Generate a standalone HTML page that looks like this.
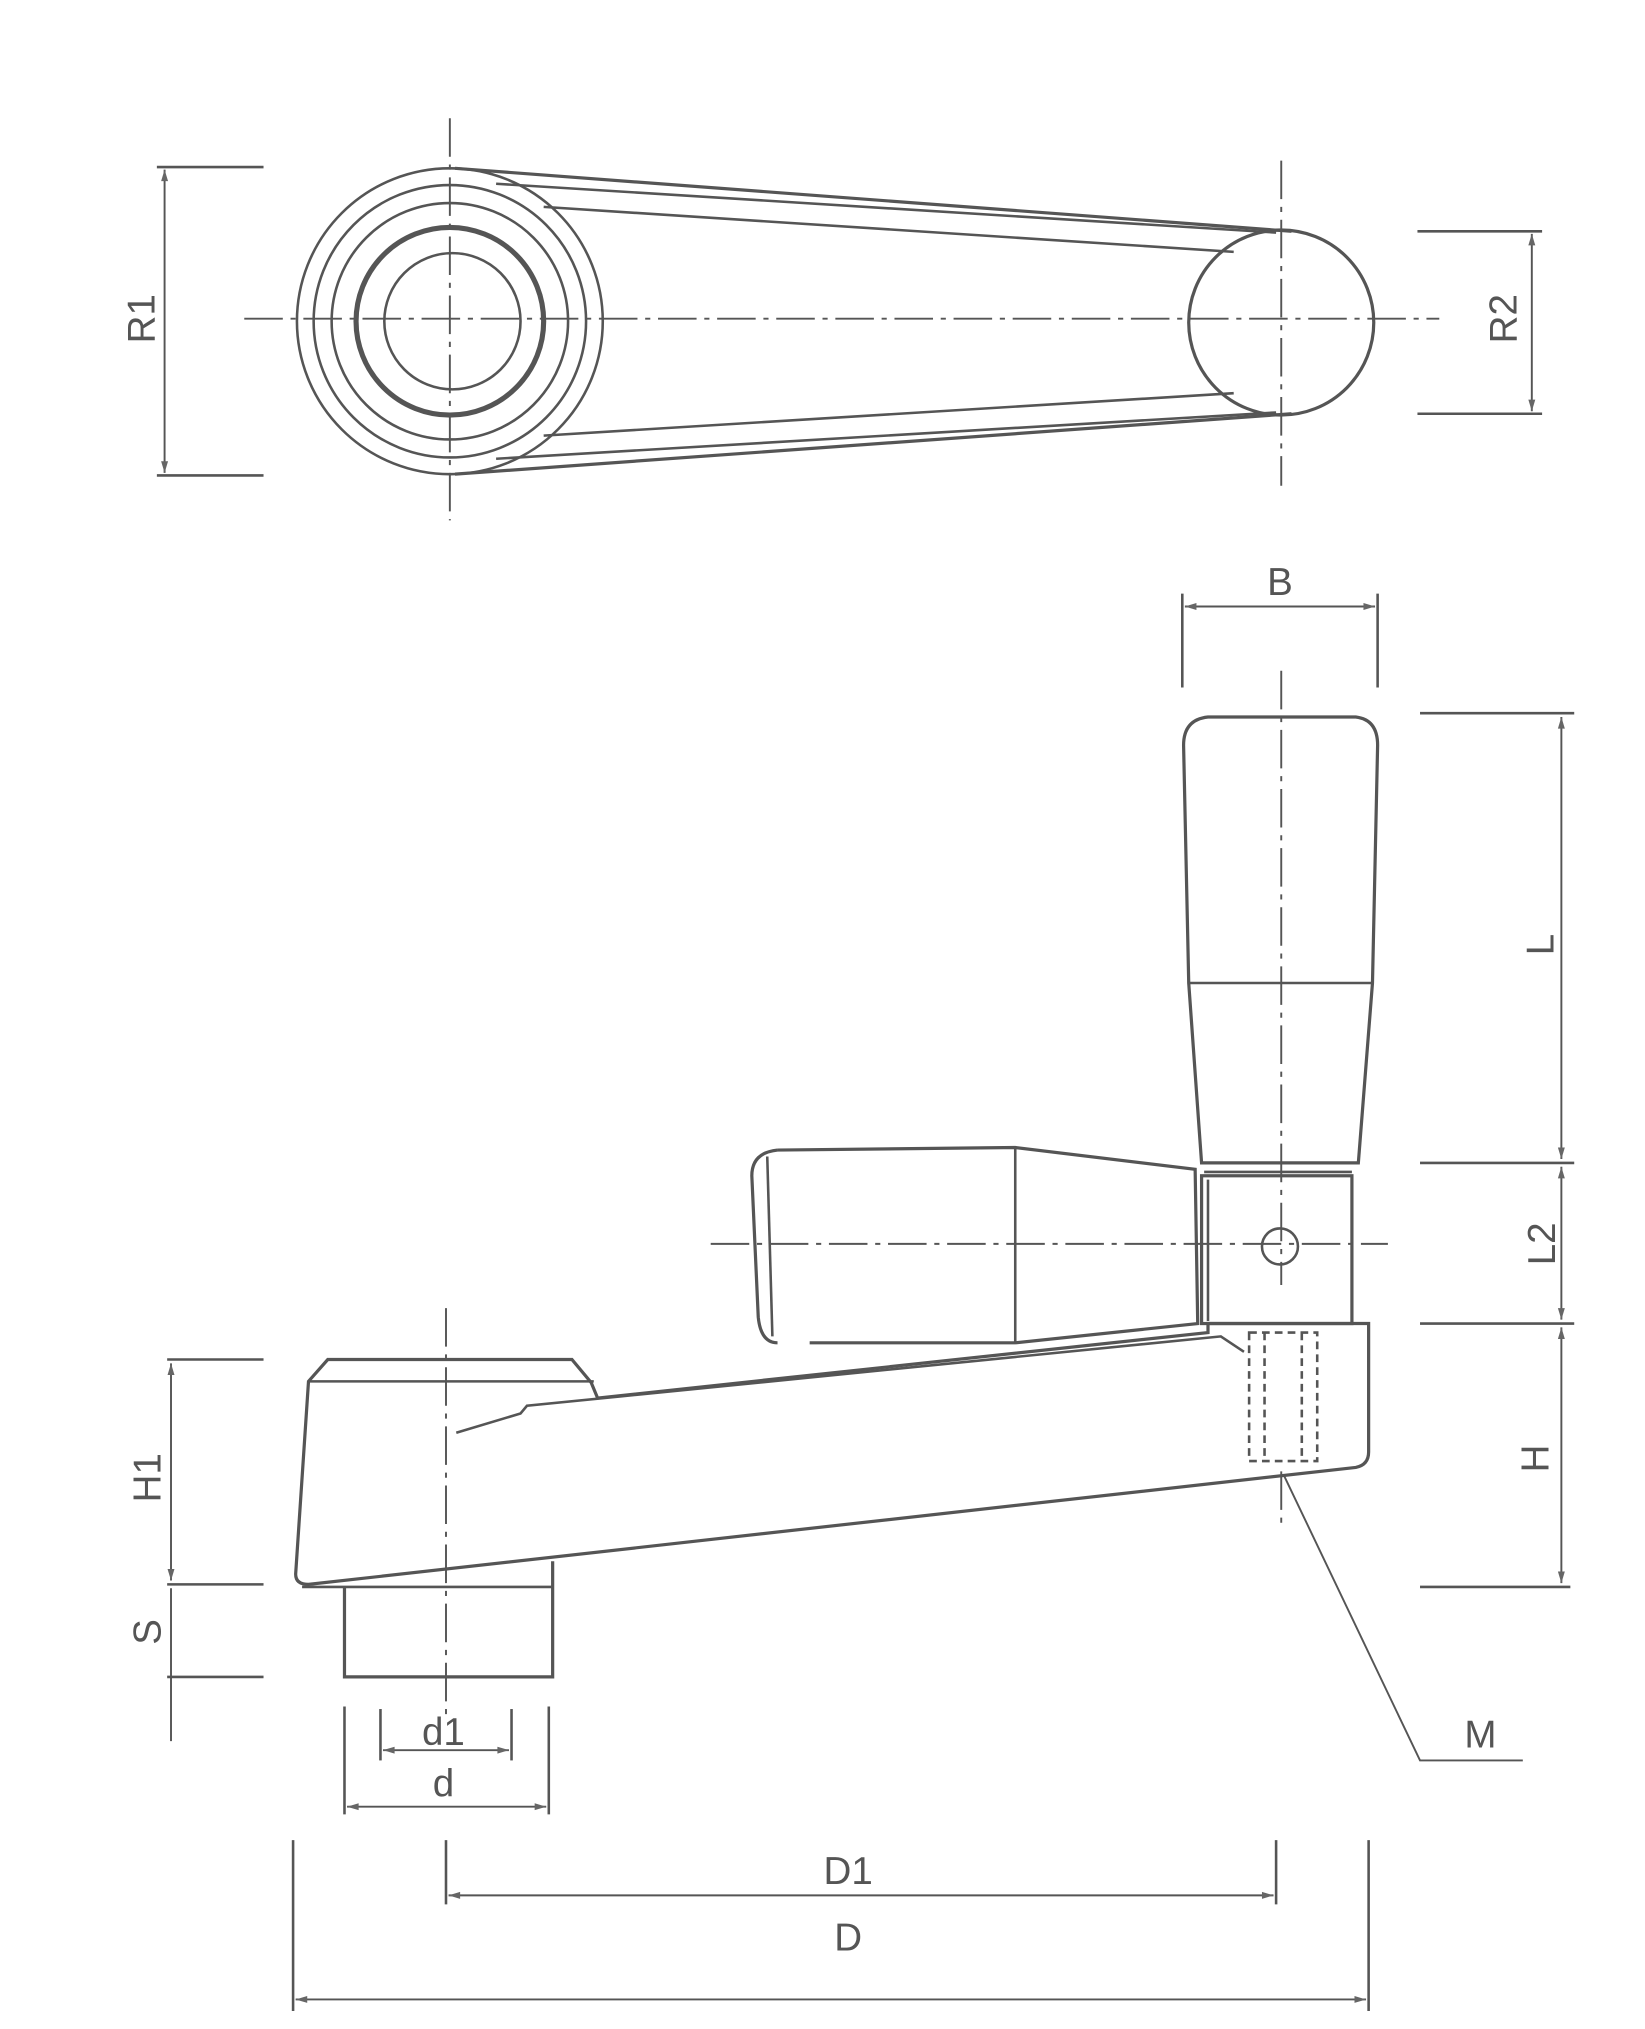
<!DOCTYPE html>
<html><head><meta charset="utf-8"><style>
html,body{margin:0;padding:0;background:#fff;}
svg{display:block;}
text{font-family:"Liberation Sans",sans-serif;fill:#555;font-size:30px;}
</style></head><body>
<svg width="1645" height="2029" viewBox="0 0 1280 1579" xmlns="http://www.w3.org/2000/svg">
<defs>
<marker id="a" viewBox="0 0 10 10" refX="10" refY="5" markerWidth="8" markerHeight="6" orient="auto-start-reverse"><path d="M0,2 L10,5 L0,8z" fill="#666"/></marker>
</defs>
<g stroke="#555" stroke-width="2" fill="none">
<!-- TOP VIEW -->
<g stroke-dasharray="30,6,4,6" stroke-width="1.5">
<line x1="190" y1="248" x2="1120" y2="248"/>
<line x1="350" y1="92" x2="350" y2="405"/>
<line x1="997" y1="125" x2="997" y2="378"/>
</g>
<circle cx="350" cy="250" r="119"/>
<circle cx="350" cy="250" r="106"/>
<circle cx="350" cy="250" r="92"/>
<circle cx="350" cy="250" r="73" stroke-width="4"/>
<circle cx="352" cy="250" r="53"/>
<circle cx="997" cy="251" r="72" stroke-width="2.5"/>
<line x1="354" y1="131" x2="1005" y2="180" stroke-width="2.5"/>
<line x1="386" y1="143" x2="993" y2="181"/>
<line x1="423" y1="161" x2="960" y2="196"/>
<line x1="354" y1="369" x2="1005" y2="322" stroke-width="2.5"/>
<line x1="386" y1="357" x2="993" y2="321"/>
<line x1="423" y1="339" x2="960" y2="306"/>
<!-- R1 -->
<line x1="122" y1="130" x2="205" y2="130"/>
<line x1="122" y1="370" x2="205" y2="370"/>
<line x1="128" y1="132" x2="128" y2="368" marker-start="url(#a)" marker-end="url(#a)" stroke-width="1.5"/>
<!-- R2 -->
<line x1="1103" y1="180" x2="1200" y2="180"/>
<line x1="1103" y1="322" x2="1200" y2="322"/>
<line x1="1192" y1="182" x2="1192" y2="320" marker-start="url(#a)" marker-end="url(#a)" stroke-width="1.5"/>

<!-- SIDE VIEW -->
<!-- B -->
<line x1="920" y1="462" x2="920" y2="535"/>
<line x1="1072" y1="462" x2="1072" y2="535"/>
<line x1="922" y1="472" x2="1070" y2="472" marker-start="url(#a)" marker-end="url(#a)" stroke-width="1.5"/>
<!-- vertical grip -->
<path d="M935,905 L925,765 L921,580 Q921,560 940,558 L1055,558 Q1072,560 1072,580 L1068,765 L1057,905 Z" stroke-width="2.5"/>
<line x1="924" y1="765" x2="1069" y2="765"/>
<line x1="937" y1="912" x2="1052" y2="912"/>
<!-- hub -->
<rect x="935" y="915" width="117" height="115" stroke-width="2.5"/>
<line x1="940" y1="918" x2="940" y2="1028"/>
<circle cx="996" cy="970" r="14"/>
<!-- horizontal grip -->
<path d="M605,895 Q585,897 585,915 L590,1025 Q592,1045 605,1045" stroke-width="2.5"/>
<path d="M605,895 L790,893 L930,910 L932,1030 L790,1045 L630,1045" stroke-width="2.5"/>
<line x1="597" y1="900" x2="601" y2="1040"/>
<line x1="790" y1="893" x2="790" y2="1045"/>
<g stroke-dasharray="30,6,4,6" stroke-width="1.5">
<line x1="553" y1="968" x2="1080" y2="968"/>
<line x1="997" y1="522" x2="997" y2="1000"/>
<line x1="347" y1="1018" x2="347" y2="1340"/>
<line x1="997" y1="1145" x2="997" y2="1185"/>
</g>
<!-- L / L2 / H -->
<line x1="1105" y1="555" x2="1225" y2="555"/>
<line x1="1105" y1="905" x2="1225" y2="905"/>
<line x1="1105" y1="1030" x2="1225" y2="1030"/>
<line x1="1105" y1="1235" x2="1222" y2="1235"/>
<line x1="1215" y1="558" x2="1215" y2="902" marker-start="url(#a)" marker-end="url(#a)" stroke-width="1.5"/>
<line x1="1215" y1="908" x2="1215" y2="1027" marker-start="url(#a)" marker-end="url(#a)" stroke-width="1.5"/>
<line x1="1215" y1="1033" x2="1215" y2="1232" marker-start="url(#a)" marker-end="url(#a)" stroke-width="1.5"/>
<!-- arm -->
<path d="M255,1058 L445,1058 L460,1076 L465,1088 L940,1037 L940,1030 L1065,1030 L1065,1130 Q1065,1140 1055,1142 L240,1233 Q230,1233 230,1225 L240,1075 Z" stroke-width="2.5"/>
<line x1="240" y1="1075" x2="462" y2="1075"/>
<path d="M355,1115 L405,1100 L410,1094 L950,1040 L968,1052"/>
<rect x="972" y="1037" width="53" height="100" stroke-dasharray="6,4"/>
<line x1="984" y1="1037" x2="984" y2="1137" stroke-dasharray="6,4"/>
<line x1="1013" y1="1037" x2="1013" y2="1137" stroke-dasharray="6,4"/>
<!-- boss -->
<path d="M268,1235 L268,1305 L430,1305 L430,1215" stroke-width="2.5"/>
<line x1="235" y1="1235" x2="430" y2="1235"/>
<!-- H1 / S -->
<line x1="130" y1="1058" x2="205" y2="1058"/>
<line x1="130" y1="1233" x2="205" y2="1233"/>
<line x1="130" y1="1305" x2="205" y2="1305"/>
<line x1="133" y1="1061" x2="133" y2="1230" marker-start="url(#a)" marker-end="url(#a)" stroke-width="1.5"/>
<line x1="133" y1="1236" x2="133" y2="1355" stroke-width="1.5"/>
<!-- d1 / d -->
<line x1="296" y1="1330" x2="296" y2="1370"/>
<line x1="398" y1="1330" x2="398" y2="1370"/>
<line x1="298" y1="1362" x2="396" y2="1362" marker-start="url(#a)" marker-end="url(#a)" stroke-width="1.5"/>
<line x1="268" y1="1328" x2="268" y2="1412"/>
<line x1="427" y1="1328" x2="427" y2="1412"/>
<line x1="270" y1="1406" x2="425" y2="1406" marker-start="url(#a)" marker-end="url(#a)" stroke-width="1.5"/>
<!-- D1 / D -->
<line x1="347" y1="1432" x2="347" y2="1482"/>
<line x1="993" y1="1432" x2="993" y2="1482"/>
<line x1="349" y1="1475" x2="991" y2="1475" marker-start="url(#a)" marker-end="url(#a)" stroke-width="1.5"/>
<line x1="228" y1="1432" x2="228" y2="1565"/>
<line x1="1065" y1="1432" x2="1065" y2="1565"/>
<line x1="230" y1="1556" x2="1063" y2="1556" marker-start="url(#a)" marker-end="url(#a)" stroke-width="1.5"/>
<!-- M leader -->
<polyline points="999,1148 1105,1370 1185,1370" stroke-width="1.5"/>
</g>
<!-- labels -->
<text x="120" y="248" text-anchor="middle" transform="rotate(-90 120 248)" dy="0">R1</text>
<text x="1180" y="248" text-anchor="middle" transform="rotate(-90 1180 248)">R2</text>
<text x="996" y="463" text-anchor="middle">B</text>
<text x="1215" y="735" text-anchor="middle" transform="rotate(-90 1215 735)" dy="-6">L</text>
<text x="1210" y="968" text-anchor="middle" transform="rotate(-90 1210 968)">L2</text>
<text x="1205" y="1135" text-anchor="middle" transform="rotate(-90 1205 1135)">H</text>
<text x="125" y="1150" text-anchor="middle" transform="rotate(-90 125 1150)">H1</text>
<text x="125" y="1270" text-anchor="middle" transform="rotate(-90 125 1270)">S</text>
<text x="345" y="1358" text-anchor="middle">d1</text>
<text x="345" y="1398" text-anchor="middle">d</text>
<text x="660" y="1466" text-anchor="middle">D1</text>
<text x="660" y="1518" text-anchor="middle">D</text>
<text x="1152" y="1360" text-anchor="middle">M</text>
</svg>
</body></html>
